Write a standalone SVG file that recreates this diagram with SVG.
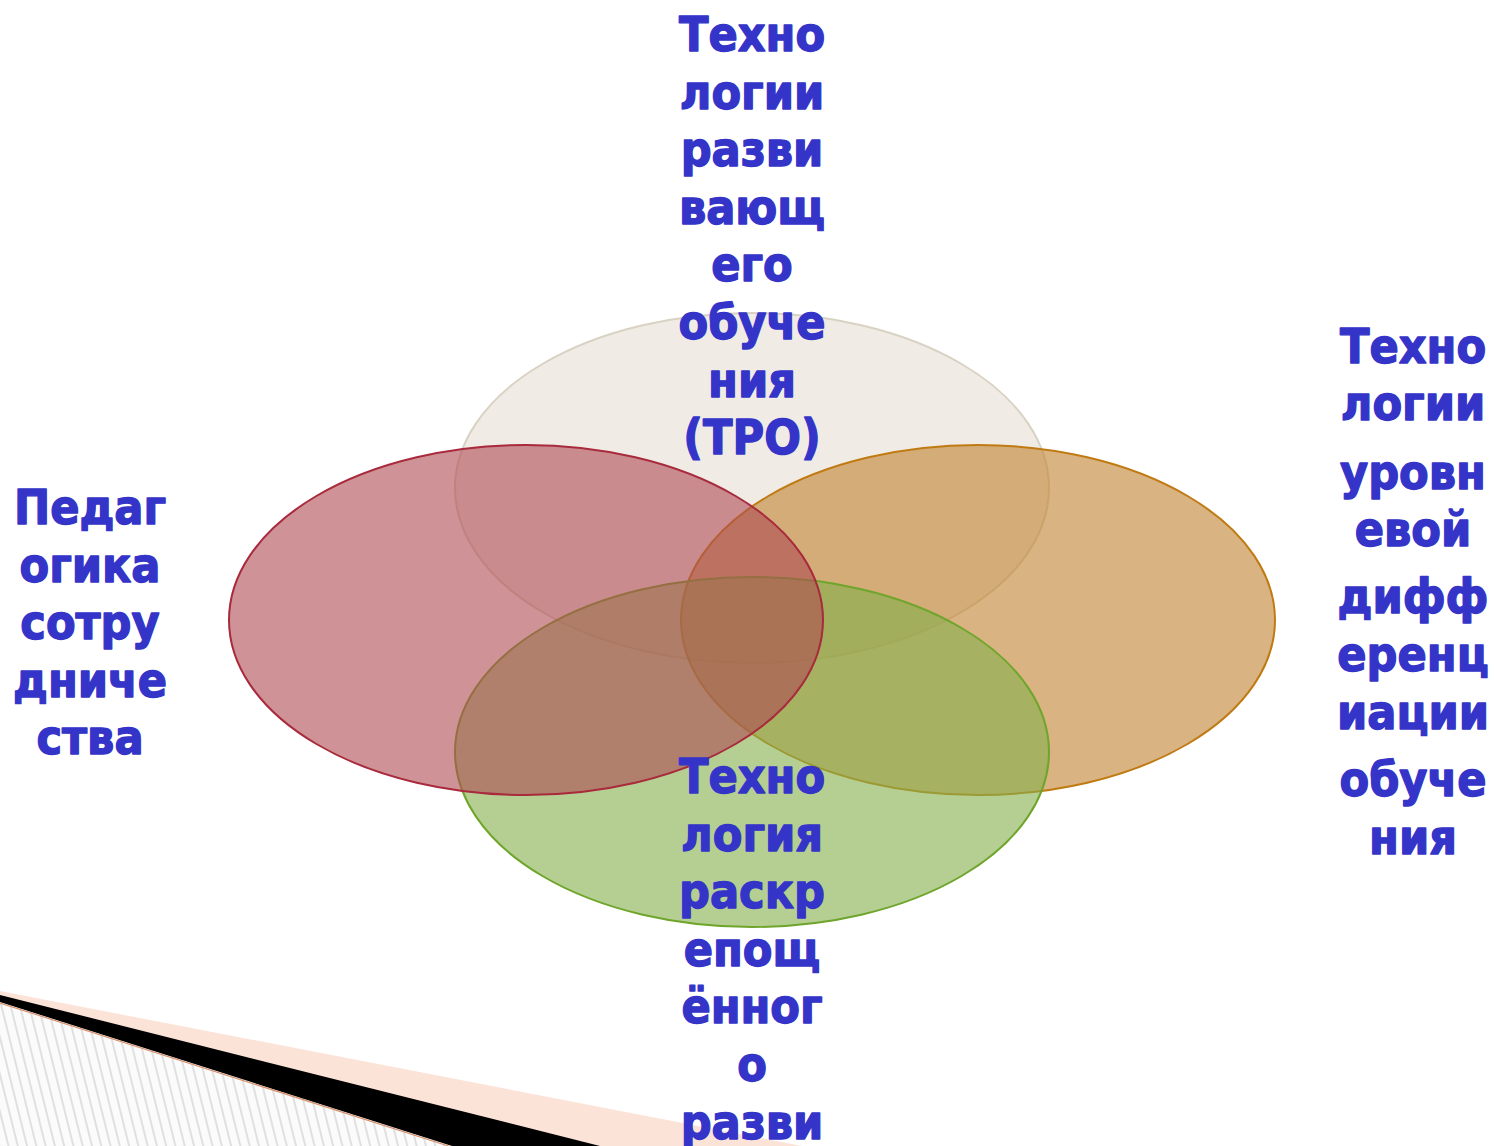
<svg xmlns="http://www.w3.org/2000/svg" width="1494" height="1146" viewBox="0 0 1494 1146">
  <defs>
    <pattern id="hatch" width="9" height="9" patternUnits="userSpaceOnUse" patternTransform="rotate(-14)">
      <rect width="9" height="9" fill="#fbfbfb"/>
      <line x1="1" y1="0" x2="1" y2="9" stroke="#c6c6c6" stroke-width="1"/>
    </pattern>
    <style>
      .lbl { font-family: "DejaVu Sans Condensed", "DejaVu Sans", "Liberation Sans", sans-serif; font-weight: bold; font-size: 48px; fill: #3434c8; stroke: #3434c8; stroke-width: 1.3px; stroke-linejoin: round; text-anchor: middle; }
      .ell { stroke-width: 2; fill-opacity: 0.6; }
    </style>
  </defs>
  <rect width="1494" height="1146" fill="#ffffff"/>

  <g id="decoration">
    <polygon points="0,991 802,1146 0,1146" fill="#fce3d8"/>
    <polygon points="0,995 0,1146 600,1146" fill="#000000"/>
    <polygon points="0,1002 452,1146 0,1146" fill="url(#hatch)"/>
    <line x1="0" y1="1003" x2="450" y2="1146.5" stroke="#d8906c" stroke-width="1.2"/>
  </g>

  <g id="node-top">
    <ellipse class="ell" cx="752" cy="488" rx="297" ry="175" fill="#e6dfd4" stroke="#d9d2c4"/>
  </g>
  <g id="node-right">
    <ellipse class="ell" cx="978" cy="620" rx="297" ry="175" fill="#c0822f" stroke="#c07a12"/>
  </g>
  <g id="node-bottom">
    <ellipse class="ell" cx="752" cy="752" rx="297" ry="175" fill="#84af4b" stroke="#6ea52a"/>
  </g>
  <g id="node-left">
    <ellipse class="ell" cx="526" cy="620" rx="297" ry="175" fill="#af4b52" stroke="#a82a3c"/>
  </g>

  <g id="connectors"/>

  <g id="label-top">
    <text class="lbl" x="752" y="51">Техно</text>
    <text class="lbl" x="752" y="108.6">логии</text>
    <text class="lbl" x="752" y="166.2">разви</text>
    <text class="lbl" x="752" y="223.8">вающ</text>
    <text class="lbl" x="752" y="281.4">его</text>
    <text class="lbl" x="752" y="339">обуче</text>
    <text class="lbl" x="752" y="396.6">ния</text>
    <text class="lbl" x="752" y="454.2">(ТРО)</text>
  </g>

  <g id="label-left">
    <text class="lbl" x="90" y="524">Педаг</text>
    <text class="lbl" x="90" y="582">огика</text>
    <text class="lbl" x="90" y="639">сотру</text>
    <text class="lbl" x="90" y="697">дниче</text>
    <text class="lbl" x="90" y="754">ства</text>
  </g>

  <g id="label-right">
    <text class="lbl" x="1413" y="363">Техно</text>
    <text class="lbl" x="1413" y="420">логии</text>
    <text class="lbl" x="1413" y="489">уровн</text>
    <text class="lbl" x="1413" y="546">евой</text>
    <text class="lbl" x="1413" y="613">дифф</text>
    <text class="lbl" x="1413" y="671">еренц</text>
    <text class="lbl" x="1413" y="729">иации</text>
    <text class="lbl" x="1413" y="796">обуче</text>
    <text class="lbl" x="1413" y="854">ния</text>
  </g>

  <g id="label-bottom">
    <text class="lbl" x="752" y="793">Техно</text>
    <text class="lbl" x="752" y="850.6">логия</text>
    <text class="lbl" x="752" y="908.2">раскр</text>
    <text class="lbl" x="752" y="965.8">епощ</text>
    <text class="lbl" x="752" y="1023.4">ённог</text>
    <text class="lbl" x="752" y="1081">о</text>
    <text class="lbl" x="752" y="1138.6">разви</text>
  </g>
</svg>
